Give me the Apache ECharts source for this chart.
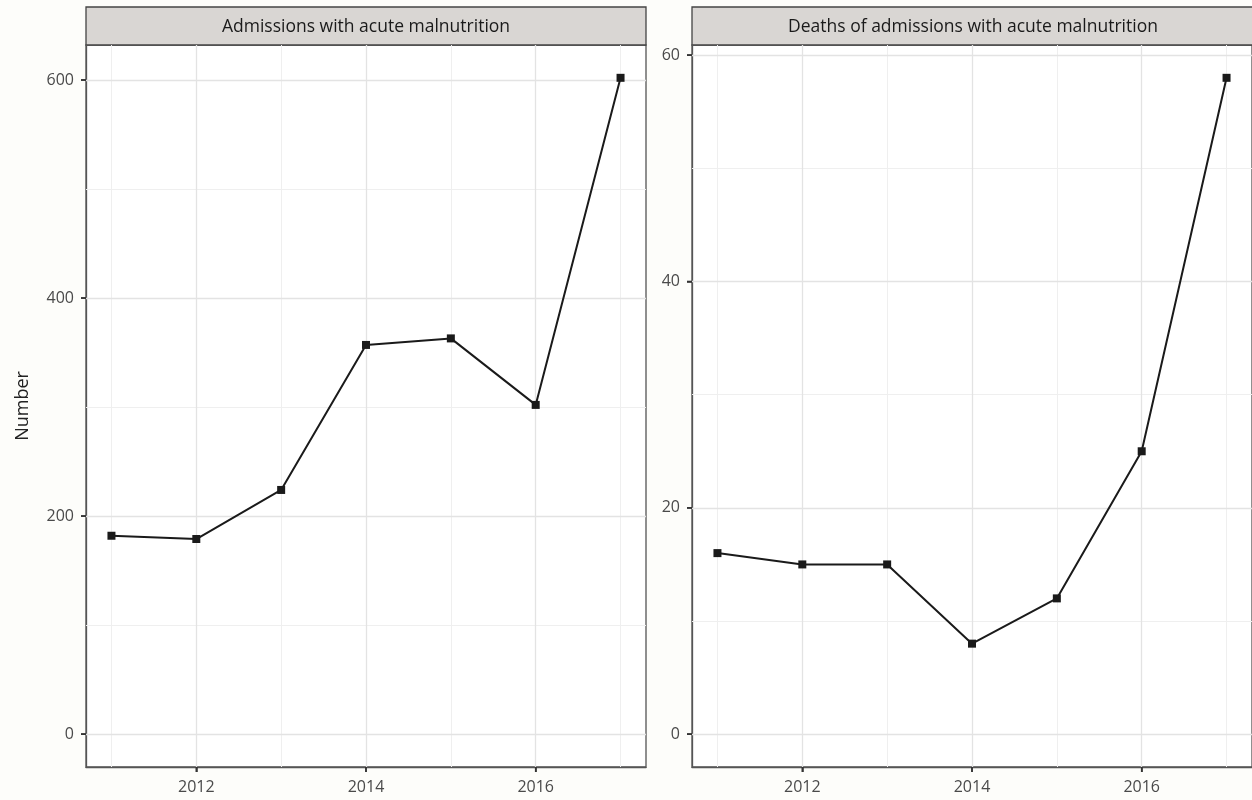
<!DOCTYPE html>
<html>
<head>
<meta charset="utf-8">
<script src="https://cdn.jsdelivr.net/npm/echarts@6/dist/echarts.min.js"></script>
<style>
html,body{margin:0;padding:0;background:#fdfdfa;}
#c{width:1252px;height:800px;}
</style>
</head>
<body>
<div id="c"></div>
<script>
var years = [2011, 2012, 2013, 2014, 2015, 2016, 2017];
var admissions = [182, 179, 224, 357, 363, 302, 602];
var deaths = [16, 15, 15, 8, 12, 25, 58];
var titles = ['Admissions with acute malnutrition', 'Deaths of admissions with acute malnutrition'];
var xMajor = [2012, 2014, 2016];
var xMinor = [2011, 2013, 2015, 2017];
var yMajorL = [0, 200, 400, 600];
var yMinorL = [100, 300, 500];
var yMajorR = [0, 20, 40, 60];
var yMinorR = [10, 30, 50];
var yName = 'Number';

var font = 'Open Sans';
var xMin = 2010.7, xMax = 2017.3;
var yRangeL = [-30.1, 632.1], yRangeR = [-2.9, 60.9];
var grids = [
  {left: 86, top: 45, width: 560, height: 722},
  {left: 692, top: 45, width: 562, height: 722}
];

function markLines(ymaj, ymin) {
  var d = [];
  xMinor.forEach(function(v){ d.push({xAxis: v, lineStyle:{color:'#efefef', width:1, type:'solid'}}); });
  ymin.forEach(function(v){ d.push({yAxis: v, lineStyle:{color:'#efefef', width:1, type:'solid'}}); });
  xMajor.forEach(function(v){ d.push({xAxis: v, lineStyle:{color:'#e3e3e3', width:1.3, type:'solid'}}); });
  ymaj.forEach(function(v){ d.push({yAxis: v, lineStyle:{color:'#e3e3e3', width:1.3, type:'solid'}}); });
  return {silent: true, symbol: 'none', z: 1, label: {show: false}, data: d, animation: false,
    lineStyle: {type: 'solid'}, emphasis: {disabled: true}};
}

function xAxis(i) {
  return {
    type: 'value', gridIndex: i, min: xMin, max: xMax,
    splitLine: {show: false}, axisLine: {show: true, onZero: false, lineStyle: {color: '#555', width: 1.3}},
    axisTick: {show: true, length: 5, customValues: xMajor, lineStyle: {color: '#333', width: 1.5}},
    axisLabel: {customValues: xMajor, color: '#4a4a4a', fontSize: 16, fontFamily: font, margin: 12,
      formatter: function(v){ return String(v); }}
  };
}
function yAxis(i, range, ticks) {
  return {
    type: 'value', gridIndex: i, min: range[0], max: range[1],
    splitLine: {show: false}, axisLine: {show: true, onZero: false, lineStyle: {color: '#555', width: 1.3}},
    axisTick: {show: true, length: 5, customValues: ticks, lineStyle: {color: '#333', width: 1.5}},
    axisLabel: {customValues: ticks, color: '#4a4a4a', fontSize: 16, fontFamily: font, margin: 12,
      formatter: function(v){ return String(v); }},
    name: i === 0 ? yName : '', nameLocation: 'middle', nameGap: 54, nameRotate: 90,
    nameTextStyle: {color: '#222', fontSize: 18, fontFamily: font}
  };
}

function strip(g, text) {
  return {
    type: 'group',
    children: [
      {type: 'rect', shape: {x: g.left, y: 7, width: g.width, height: 38},
        style: {fill: '#d9d6d3', stroke: '#444', lineWidth: 1.3}},
      {type: 'text', x: g.left + g.width / 2, y: 27,
        style: {text: text, fill: '#1a1a1a', fontSize: 17.5, fontFamily: font, align: 'center', verticalAlign: 'middle'}}
    ]
  };
}

var chart = echarts.init(document.getElementById('c'));
chart.setOption({
  backgroundColor: '#fdfdfa',
  animation: false,
  grid: grids.map(function(g){ return Object.assign({show: true, backgroundColor: '#ffffff', borderColor: '#555', borderWidth: 1.3}, g); }),
  xAxis: [xAxis(0), xAxis(1)],
  yAxis: [yAxis(0, yRangeL, yMajorL), yAxis(1, yRangeR, yMajorR)],
  series: [
    {type: 'line', xAxisIndex: 0, yAxisIndex: 0, z: 3,
      data: years.map(function(y, i){ return [y, admissions[i]]; }),
      symbol: 'rect', symbolSize: 8, showSymbol: true,
      itemStyle: {color: '#1a1a1a'}, lineStyle: {color: '#1a1a1a', width: 2},
      markLine: markLines(yMajorL, yMinorL)},
    {type: 'line', xAxisIndex: 1, yAxisIndex: 1, z: 3,
      data: years.map(function(y, i){ return [y, deaths[i]]; }),
      symbol: 'rect', symbolSize: 8, showSymbol: true,
      itemStyle: {color: '#1a1a1a'}, lineStyle: {color: '#1a1a1a', width: 2},
      markLine: markLines(yMajorR, yMinorR)}
  ]
});

// Tick marks placed through the library's own scales (convertToPixel on each series)
var gfx = [strip(grids[0], titles[0]), strip(grids[1], titles[1])];
[[0, yRangeL, yMajorL], [1, yRangeR, yMajorR]].forEach(function(cfg) {
  var si = cfg[0], yr = cfg[1], yt = cfg[2];
  xMajor.forEach(function(v) {
    var p = chart.convertToPixel({seriesIndex: si}, [v, yr[0]]);
    if (p && isFinite(p[0]) && isFinite(p[1])) gfx.push({type: 'rect', z: 100, silent: true,
      shape: {x: p[0] - 0.8, y: p[1], width: 1.6, height: 5}, style: {fill: '#333'}});
  });
  yt.forEach(function(v) {
    var p = chart.convertToPixel({seriesIndex: si}, [xMin, v]);
    if (p && isFinite(p[0]) && isFinite(p[1])) gfx.push({type: 'rect', z: 100, silent: true,
      shape: {x: p[0] - 5, y: p[1] - 0.8, width: 5, height: 1.6}, style: {fill: '#333'}});
  });
});
chart.setOption({graphic: gfx});
</script>
</body>
</html>
